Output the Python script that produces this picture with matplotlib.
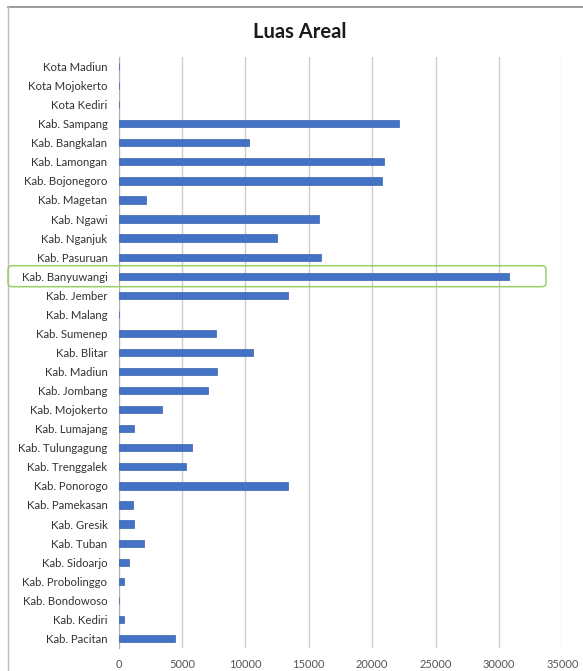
import matplotlib
matplotlib.use("Agg")
import matplotlib.pyplot as plt
from matplotlib.lines import Line2D
from matplotlib.patches import FancyBboxPatch
from matplotlib.transforms import IdentityTransform
import numpy as np

plt.rcParams["font.family"] = ["Lato", "DejaVu Sans"]

# rows listed top to bottom as shown on the chart
regions = [
    "Kota Madiun", "Kota Mojokerto", "Kota Kediri", "Kab. Sampang",
    "Kab. Bangkalan", "Kab. Lamongan", "Kab. Bojonegoro", "Kab. Magetan",
    "Kab. Ngawi", "Kab. Nganjuk", "Kab. Pasuruan", "Kab. Banyuwangi",
    "Kab. Jember", "Kab. Malang", "Kab. Sumenep", "Kab. Blitar",
    "Kab. Madiun", "Kab. Jombang", "Kab. Mojokerto", "Kab. Lumajang",
    "Kab. Tulungagung", "Kab. Trenggalek", "Kab. Ponorogo", "Kab. Pamekasan",
    "Kab. Gresik", "Kab. Tuban", "Kab. Sidoarjo", "Kab. Probolinggo",
    "Kab. Bondowoso", "Kab. Kediri", "Kab. Pacitan",
]
luas_areal = [
    0, 15, 0, 22150,
    10270, 20920, 20800, 2170,
    15810, 12520, 15950, 30770,
    13390, 20, 7690, 10580,
    7800, 7030, 3400, 1220,
    5770, 5320, 13390, 1120,
    1250, 2040, 850, 460,
    30, 410, 4450,
]
highlight = "Kab. Banyuwangi"
x_ticks = np.arange(0, 35001, 5000)

W, H, DPI = 583, 671, 100
fig = plt.figure(figsize=(W / DPI, H / DPI), dpi=DPI, facecolor="white")
ax = fig.add_axes([0.2033, 0.0343, 0.7612, 0.8808])

y = np.arange(len(regions))
ax.barh(y, luas_areal, height=0.38, color="#4472c4", edgecolor="#3a64ad",
        linewidth=0.5, zorder=3)

ax.set_ylim(len(regions) - 0.5, -0.5)
ax.set_xlim(0, 35000)
ax.set_yticks(y)
ax.set_yticklabels(regions, fontsize=8.2, color="#333333")
ax.set_xticks(x_ticks)
ax.set_xticklabels([str(v) for v in x_ticks], fontsize=8, color="#555555")
ax.tick_params(axis="y", length=0, pad=8)
ax.tick_params(axis="x", length=0, pad=8)

ax.grid(axis="x", color="#cccccc", linewidth=1.0, zorder=0)
for side in ("top", "right", "bottom"):
    ax.spines[side].set_visible(False)
ax.spines["left"].set_color("#b0b0b0")
ax.spines["left"].set_linewidth(0.8)

fig.text(0.515, 0.953, "Luas Areal", ha="center", va="center",
         fontsize=14.5, fontweight="bold", color="#1a1a1a")

# outer frame: top and left edges only
fig.add_artist(Line2D([0.0137, 1.0], [0.9896, 0.9896], transform=fig.transFigure,
                      color="#8a8a8a", linewidth=1.2))
fig.add_artist(Line2D([0.0137, 0.0137], [0.0, 0.9896], transform=fig.transFigure,
                      color="#bdbdbd", linewidth=1.0))

# green rounded box around the highlighted row
row = regions.index(highlight)
_, y_top = ax.transData.transform((0, row - 0.55))
_, y_bot = ax.transData.transform((0, row + 0.55))
box = FancyBboxPatch((8, y_bot), 538, y_top - y_bot,
                     boxstyle="round,pad=0,rounding_size=4",
                     transform=IdentityTransform(), fill=False,
                     edgecolor="#9ccf6a", linewidth=1.1, zorder=5)
fig.add_artist(box)

fig.savefig("out.png", dpi=DPI, facecolor="white")
